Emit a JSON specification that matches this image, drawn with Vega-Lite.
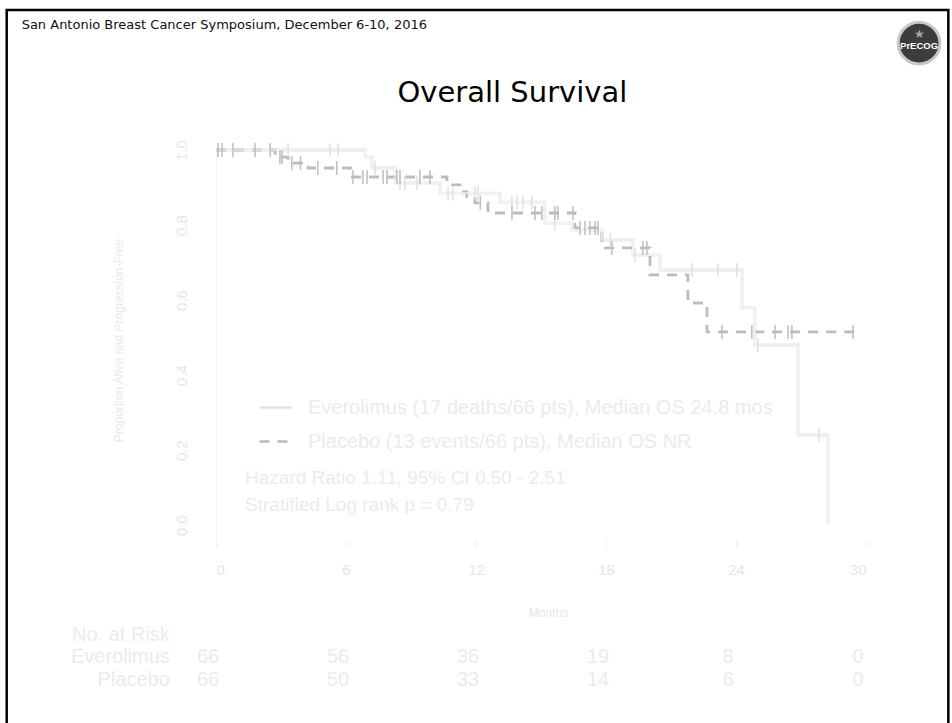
{
  "$schema": "https://vega.github.io/schema/vega-lite/v6.json",
  "width": 650,
  "height": 390,
  "autosize": {"type": "none"},
  "padding": {"left": 216, "top": 150, "right": 86, "bottom": 183},
  "background": "white",
  "config": {"view": {"stroke": null}, "font": "Liberation Sans"},
  "datasets": {
    "curves": [
      {"series": "Everolimus", "month": 0, "surv": 1.0},
      {"series": "Everolimus", "month": 6.88, "surv": 0.981},
      {"series": "Everolimus", "month": 7.2, "surv": 0.952},
      {"series": "Everolimus", "month": 8.26, "surv": 0.912},
      {"series": "Everolimus", "month": 10.34, "surv": 0.885},
      {"series": "Everolimus", "month": 13.11, "surv": 0.861},
      {"series": "Everolimus", "month": 15.18, "surv": 0.805},
      {"series": "Everolimus", "month": 16.43, "surv": 0.787},
      {"series": "Everolimus", "month": 17.81, "surv": 0.76},
      {"series": "Everolimus", "month": 19.24, "surv": 0.72},
      {"series": "Everolimus", "month": 20.49, "surv": 0.68},
      {"series": "Everolimus", "month": 24.28, "surv": 0.579},
      {"series": "Everolimus", "month": 24.87, "surv": 0.48},
      {"series": "Everolimus", "month": 26.86, "surv": 0.24},
      {"series": "Everolimus", "month": 28.24, "surv": 0.0},
      {"series": "Placebo", "month": 0, "surv": 1.0},
      {"series": "Placebo", "month": 2.73, "surv": 0.981},
      {"series": "Placebo", "month": 3.33, "surv": 0.965},
      {"series": "Placebo", "month": 4.25, "surv": 0.952},
      {"series": "Placebo", "month": 6.2, "surv": 0.928},
      {"series": "Placebo", "month": 10.66, "surv": 0.907},
      {"series": "Placebo", "month": 11.26, "surv": 0.888},
      {"series": "Placebo", "month": 11.58, "surv": 0.875},
      {"series": "Placebo", "month": 11.95, "surv": 0.859},
      {"series": "Placebo", "month": 12.55, "surv": 0.832},
      {"series": "Placebo", "month": 16.57, "surv": 0.792},
      {"series": "Placebo", "month": 17.81, "surv": 0.739},
      {"series": "Placebo", "month": 20.03, "surv": 0.667},
      {"series": "Placebo", "month": 21.78, "surv": 0.592},
      {"series": "Placebo", "month": 22.66, "surv": 0.515},
      {"series": "Placebo", "month": 29.63, "surv": 0.515}
    ],
    "censors": [
      {"series": "Everolimus", "month": 3.33, "surv": 1.0},
      {"series": "Everolimus", "month": 5.26, "surv": 1.0},
      {"series": "Everolimus", "month": 5.63, "surv": 1.0},
      {"series": "Everolimus", "month": 7.34, "surv": 0.952},
      {"series": "Everolimus", "month": 8.49, "surv": 0.912},
      {"series": "Everolimus", "month": 8.72, "surv": 0.912},
      {"series": "Everolimus", "month": 9.28, "surv": 0.912},
      {"series": "Everolimus", "month": 10.71, "surv": 0.885},
      {"series": "Everolimus", "month": 10.94, "surv": 0.885},
      {"series": "Everolimus", "month": 11.95, "surv": 0.885},
      {"series": "Everolimus", "month": 12.09, "surv": 0.885},
      {"series": "Everolimus", "month": 13.66, "surv": 0.861},
      {"series": "Everolimus", "month": 13.89, "surv": 0.861},
      {"series": "Everolimus", "month": 14.17, "surv": 0.861},
      {"series": "Everolimus", "month": 14.58, "surv": 0.861},
      {"series": "Everolimus", "month": 15.64, "surv": 0.805},
      {"series": "Everolimus", "month": 18.2, "surv": 0.76},
      {"series": "Everolimus", "month": 19.34, "surv": 0.72},
      {"series": "Everolimus", "month": 21.97, "surv": 0.68},
      {"series": "Everolimus", "month": 23.17, "surv": 0.68},
      {"series": "Everolimus", "month": 24.04, "surv": 0.68},
      {"series": "Everolimus", "month": 25.01, "surv": 0.48},
      {"series": "Everolimus", "month": 27.83, "surv": 0.24},
      {"series": "Placebo", "month": 0.1, "surv": 1.0},
      {"series": "Placebo", "month": 0.28, "surv": 1.0},
      {"series": "Placebo", "month": 0.78, "surv": 1.0},
      {"series": "Placebo", "month": 1.8, "surv": 1.0},
      {"series": "Placebo", "month": 2.5, "surv": 1.0},
      {"series": "Placebo", "month": 2.95, "surv": 0.981},
      {"series": "Placebo", "month": 3.05, "surv": 0.981},
      {"series": "Placebo", "month": 3.5, "surv": 0.965},
      {"series": "Placebo", "month": 3.9, "surv": 0.965},
      {"series": "Placebo", "month": 4.7, "surv": 0.952},
      {"series": "Placebo", "month": 5.57, "surv": 0.952},
      {"series": "Placebo", "month": 6.32, "surv": 0.928},
      {"series": "Placebo", "month": 6.78, "surv": 0.928},
      {"series": "Placebo", "month": 6.97, "surv": 0.928},
      {"series": "Placebo", "month": 7.71, "surv": 0.928},
      {"series": "Placebo", "month": 7.89, "surv": 0.928},
      {"series": "Placebo", "month": 8.35, "surv": 0.928},
      {"series": "Placebo", "month": 8.49, "surv": 0.928},
      {"series": "Placebo", "month": 9.41, "surv": 0.928},
      {"series": "Placebo", "month": 9.88, "surv": 0.928},
      {"series": "Placebo", "month": 12.2, "surv": 0.859},
      {"series": "Placebo", "month": 13.66, "surv": 0.832},
      {"series": "Placebo", "month": 14.72, "surv": 0.832},
      {"series": "Placebo", "month": 15.04, "surv": 0.832},
      {"series": "Placebo", "month": 15.64, "surv": 0.832},
      {"series": "Placebo", "month": 15.78, "surv": 0.832},
      {"series": "Placebo", "month": 16.47, "surv": 0.832},
      {"series": "Placebo", "month": 16.8, "surv": 0.792},
      {"series": "Placebo", "month": 17.03, "surv": 0.792},
      {"series": "Placebo", "month": 17.26, "surv": 0.792},
      {"series": "Placebo", "month": 17.49, "surv": 0.792},
      {"series": "Placebo", "month": 17.63, "surv": 0.792},
      {"series": "Placebo", "month": 18.27, "surv": 0.739},
      {"series": "Placebo", "month": 19.7, "surv": 0.739},
      {"series": "Placebo", "month": 19.89, "surv": 0.739},
      {"series": "Placebo", "month": 23.35, "surv": 0.515},
      {"series": "Placebo", "month": 24.73, "surv": 0.515},
      {"series": "Placebo", "month": 25.8, "surv": 0.515},
      {"series": "Placebo", "month": 26.4, "surv": 0.515},
      {"series": "Placebo", "month": 26.58, "surv": 0.515},
      {"series": "Placebo", "month": 29.4, "surv": 0.515}
    ],
    "risk": [
      {"series": "Everolimus", "month": 0, "n": 66},
      {"series": "Everolimus", "month": 6, "n": 56},
      {"series": "Everolimus", "month": 12, "n": 36},
      {"series": "Everolimus", "month": 18, "n": 19},
      {"series": "Everolimus", "month": 24, "n": 8},
      {"series": "Everolimus", "month": 30, "n": 0},
      {"series": "Placebo", "month": 0, "n": 66},
      {"series": "Placebo", "month": 6, "n": 50},
      {"series": "Placebo", "month": 12, "n": 33},
      {"series": "Placebo", "month": 18, "n": 14},
      {"series": "Placebo", "month": 24, "n": 6},
      {"series": "Placebo", "month": 30, "n": 0}
    ],
    "one": [{}]
  },
  "layer": [
    {
      "data": {"name": "curves"},
      "mark": {"type": "line", "interpolate": "step-after", "strokeWidth": 2.8, "clip": false},
      "encoding": {
        "x": {
          "field": "month", "type": "quantitative",
          "scale": {"domain": [0, 30], "nice": false},
          "axis": {
            "values": [0, 6, 12, 18, 24, 30], "grid": false, "domain": false,
            "tickSize": 7, "tickColor": "#eeeeee",
            "labelFontSize": 15, "labelColor": "#e6e6e6", "labelPadding": 15,
            "title": "Months", "titleFontSize": 12, "titleFontWeight": "normal",
            "titleColor": "#e6e6e6", "titleX": 332, "titleY": 72, "titleBaseline": "middle"
          }
        },
        "y": {
          "field": "surv", "type": "quantitative",
          "scale": {"domain": [-0.04, 1], "nice": false, "zero": false},
          "axis": {
            "values": [0, 0.2, 0.4, 0.6, 0.8, 1], "format": ".1f", "grid": false,
            "ticks": false, "tickSize": 0, "domainColor": "#efefef",
            "labelAngle": 270, "labelFontSize": 15, "labelColor": "#e6e6e6", "labelPadding": 27,
            "title": "Proportion Alive and Progression-Free", "titleFontSize": 12,
            "titleFontWeight": "normal", "titleColor": "#e9e9e9",
            "titleX": -98, "titleY": 190, "titleBaseline": "middle"
          }
        },
        "stroke": {
          "field": "series", "type": "nominal",
          "scale": {"domain": ["Everolimus", "Placebo"], "range": ["#e2e2e2", "#bcbcbc"]},
          "legend": {
            "orient": "none", "legendX": 42, "legendY": 240, "title": null,
            "symbolType": "stroke", "symbolSize": 1024, "symbolStrokeWidth": 2.5,
            "labelFontSize": 20, "labelColor": "#ebebeb", "labelOffset": 15, "rowPadding": 6,
            "labelLimit": 700,
            "labelExpr": "datum.label == 'Everolimus' ? 'Everolimus (17 deaths/66 pts), Median OS 24.8 mos' : 'Placebo (13 events/66 pts), Median OS NR'"
          }
        },
        "strokeDash": {
          "field": "series", "type": "nominal",
          "scale": {"domain": ["Everolimus", "Placebo"], "range": [[1, 0], [10, 8]]},
          "legend": {
            "orient": "none", "legendX": 42, "legendY": 240, "title": null,
            "symbolType": "stroke", "symbolSize": 1024, "symbolStrokeWidth": 2.5,
            "labelFontSize": 20, "labelColor": "#ebebeb", "labelOffset": 15, "rowPadding": 6,
            "labelLimit": 700,
            "labelExpr": "datum.label == 'Everolimus' ? 'Everolimus (17 deaths/66 pts), Median OS 24.8 mos' : 'Placebo (13 events/66 pts), Median OS NR'"
          }
        }
      }
    },
    {
      "data": {"name": "curves"},
      "transform": [{"filter": "datum.series == 'Everolimus'"}],
      "mark": {"type": "line", "interpolate": "step-after", "strokeWidth": 1.1, "color": "#fcfcfc", "clip": false},
      "encoding": {
        "x": {"field": "month", "type": "quantitative"},
        "y": {"field": "surv", "type": "quantitative"}
      }
    },
    {
      "data": {"name": "censors"},
      "transform": [{"filter": "datum.series == 'Everolimus'"}],
      "mark": {"type": "point", "shape": "M0,-1L0,1", "filled": false, "size": 196, "strokeWidth": 1.5, "color": "#e0e0e0", "opacity": 1, "clip": false},
      "encoding": {
        "x": {"field": "month", "type": "quantitative"},
        "y": {"field": "surv", "type": "quantitative"}
      }
    },
    {
      "data": {"name": "censors"},
      "transform": [{"filter": "datum.series == 'Placebo'"}],
      "mark": {"type": "point", "shape": "M0,-1L0,1", "filled": false, "size": 196, "strokeWidth": 1.5, "color": "#bdbdbd", "opacity": 1, "clip": false},
      "encoding": {
        "x": {"field": "month", "type": "quantitative"},
        "y": {"field": "surv", "type": "quantitative"}
      }
    },
    {
      "data": {"name": "one"},
      "mark": {"type": "text", "text": "Hazard Ratio 1.11, 95% CI 0.50 - 2.51", "align": "left", "baseline": "middle", "fontSize": 19, "color": "#ebebeb", "clip": false},
      "encoding": {"x": {"datum": 1.34}, "y": {"datum": 0.125}}
    },
    {
      "data": {"name": "one"},
      "mark": {"type": "text", "text": "Stratified Log rank p = 0.79", "align": "left", "baseline": "middle", "fontSize": 19, "color": "#ebebeb", "clip": false},
      "encoding": {"x": {"datum": 1.34}, "y": {"datum": 0.053}}
    },
    {
      "data": {"name": "one"},
      "mark": {"type": "text", "text": "No. at Risk", "align": "right", "baseline": "middle", "fontSize": 20, "color": "#ebebeb", "clip": false},
      "encoding": {"x": {"datum": -2.13}, "y": {"datum": -0.293}}
    },
    {
      "data": {"name": "one"},
      "mark": {"type": "text", "text": "Everolimus", "align": "right", "baseline": "middle", "fontSize": 20, "color": "#ebebeb", "clip": false},
      "encoding": {"x": {"datum": -2.13}, "y": {"datum": -0.352}}
    },
    {
      "data": {"name": "one"},
      "mark": {"type": "text", "text": "Placebo", "align": "right", "baseline": "middle", "fontSize": 20, "color": "#ebebeb", "clip": false},
      "encoding": {"x": {"datum": -2.13}, "y": {"datum": -0.413}}
    },
    {
      "data": {"name": "risk"},
      "transform": [{"filter": "datum.series == 'Everolimus'"}],
      "mark": {"type": "text", "align": "center", "baseline": "middle", "dx": -8, "fontSize": 20, "color": "#ebebeb", "clip": false},
      "encoding": {
        "x": {"field": "month", "type": "quantitative"},
        "y": {"datum": -0.352},
        "text": {"field": "n", "type": "quantitative"}
      }
    },
    {
      "data": {"name": "risk"},
      "transform": [{"filter": "datum.series == 'Placebo'"}],
      "mark": {"type": "text", "align": "center", "baseline": "middle", "dx": -8, "fontSize": 20, "color": "#ebebeb", "clip": false},
      "encoding": {
        "x": {"field": "month", "type": "quantitative"},
        "y": {"datum": -0.413},
        "text": {"field": "n", "type": "quantitative"}
      }
    },
    {
      "data": {"name": "one"},
      "mark": {"type": "text", "text": "San Antonio Breast Cancer Symposium, December 6-10, 2016", "align": "left", "baseline": "middle", "font": "DejaVu Sans", "fontSize": 13, "color": "#111111", "clip": false},
      "encoding": {"x": {"datum": -8.97}, "y": {"datum": 1.333}}
    },
    {
      "data": {"name": "one"},
      "mark": {"type": "text", "text": "Overall Survival", "align": "center", "baseline": "middle", "font": "DejaVu Sans", "fontSize": 29, "color": "#000000", "clip": false},
      "encoding": {"x": {"datum": 13.68}, "y": {"datum": 1.152}}
    },
    {
      "data": {"name": "one"},
      "mark": {"type": "point", "shape": "circle", "size": 1750, "filled": true, "fill": "#3c3c3c", "stroke": "#c9c9c9", "strokeWidth": 3, "opacity": 1, "clip": false},
      "encoding": {"x": {"datum": 32.45}, "y": {"datum": 1.285}}
    },
    {
      "data": {"name": "one"},
      "mark": {"type": "text", "text": "★", "align": "center", "baseline": "middle", "fontSize": 12, "color": "#a8a8a8", "clip": false},
      "encoding": {"x": {"datum": 32.45}, "y": {"datum": 1.31}}
    },
    {
      "data": {"name": "one"},
      "mark": {"type": "text", "text": "PrECOG", "align": "center", "baseline": "middle", "font": "Liberation Sans", "fontSize": 9.5, "fontWeight": "bold", "color": "#ffffff", "clip": false},
      "encoding": {"x": {"datum": 32.45}, "y": {"datum": 1.277}}
    },
    {
      "data": {"name": "one"},
      "mark": {"type": "rect", "filled": false, "stroke": "#000000", "strokeWidth": 2.5, "clip": false},
      "encoding": {
        "x": {"datum": -9.66}, "x2": {"datum": 33.8},
        "y": {"datum": 1.3733}, "y2": {"datum": -0.7}
      }
    }
  ]
}
